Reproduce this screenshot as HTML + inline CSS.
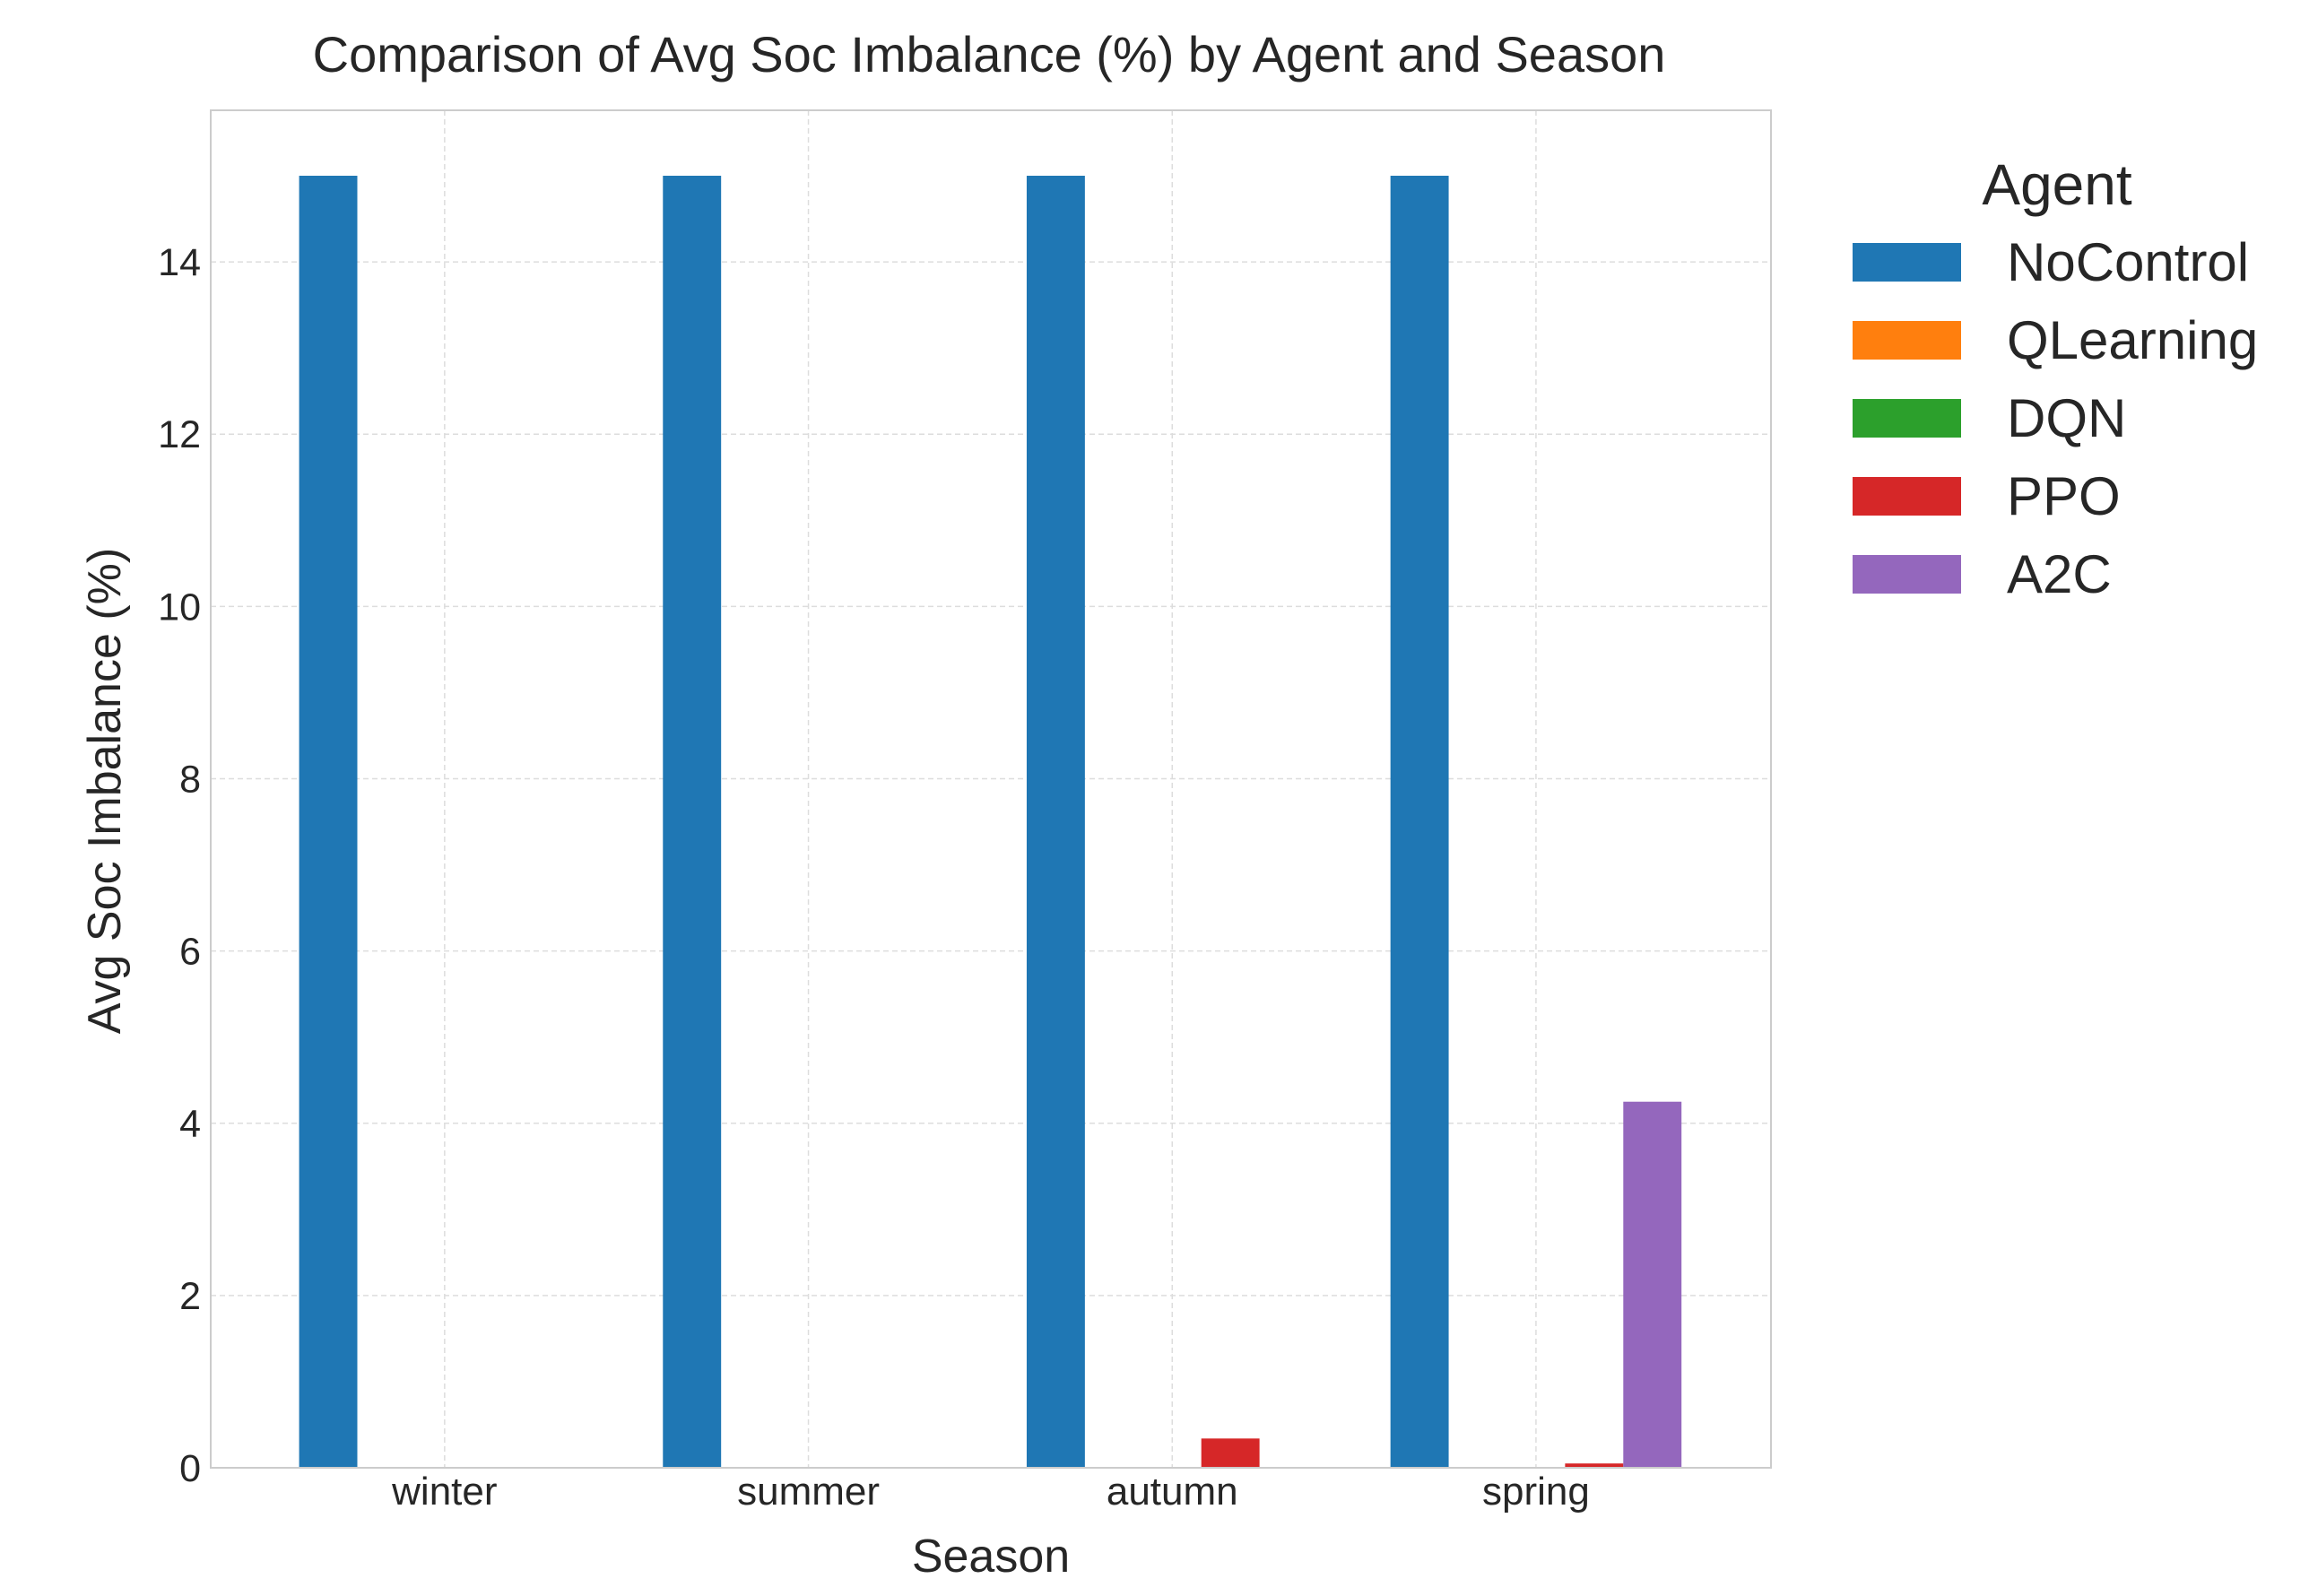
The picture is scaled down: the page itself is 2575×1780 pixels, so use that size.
<!DOCTYPE html>
<html><head><meta charset="utf-8"><style>
body{margin:0;background:#fff}
svg text{font-family:"Liberation Sans",Arial,sans-serif;fill:#262626}
</style></head><body>
<svg id="chart" width="2575" height="1775" xmlns="http://www.w3.org/2000/svg">
<rect width="2575" height="1775" fill="#fff"/>
<text x="1103" y="80" font-size="56" text-anchor="middle">Comparison of Avg Soc Imbalance (%) by Agent and Season</text>
<g id="grid"></g>
<g id="bars"></g>
<rect x="235" y="123" width="1740" height="1514" fill="none" stroke="#cccccc" stroke-width="2"/>
<g id="ticks"></g>
<text transform="translate(134,882) rotate(-90)" font-size="52" text-anchor="middle">Avg Soc Imbalance (%)</text>
<text x="1105" y="1753" font-size="52" text-anchor="middle">Season</text>
<g id="legend">
<text x="2294" y="228" font-size="64" text-anchor="middle">Agent</text>
</g>
</svg>
<script>
const categories=["winter","summer","autumn","spring"];
const agents=["NoControl","QLearning","DQN","PPO","A2C"];
const colors=["#1f77b4","#ff7f0e","#2ca02c","#d62728","#9467bd"];
const noControl=[15.0,15.0,15.0,15.0];
const qLearning=[0,0,0,0];
const dqn=[0,0,0,0];
const ppo=[0,0,0.34,0.05];
const a2c=[0,0,0,4.25];
const yTicks=[0,2,4,6,8,10,12,14];
const series=[noControl,qLearning,dqn,ppo,a2c];
const NS="http://www.w3.org/2000/svg";
const L=235,R=1975,T=123,B=1637;
const xMin=-0.643,xMax=3.646,yMin=0,yMax=15.76;
const xs=v=>L+(v-xMin)/(xMax-xMin)*(R-L);
const ys=v=>B-(v-yMin)/(yMax-yMin)*(B-T);
function mk(tag,attrs,parent){const e=document.createElementNS(NS,tag);for(const k in attrs)e.setAttribute(k,attrs[k]);parent.appendChild(e);return e;}
const grid=document.getElementById('grid'),bars=document.getElementById('bars'),ticks=document.getElementById('ticks'),legend=document.getElementById('legend');
yTicks.forEach(t=>{
 const g=mk('line',{x1:L,x2:R,y1:ys(t),y2:ys(t),stroke:'#dddddd','stroke-width':1.5,'stroke-dasharray':'6,4'},grid);
 
 
 const tx=mk('text',{x:224,y:ys(t)+15,'font-size':43,'text-anchor':'end'},ticks);
 tx.textContent=t;
 
 
});
categories.forEach((c,i)=>{
 const g=mk('line',{x1:xs(i),x2:xs(i),y1:T,y2:B,stroke:'#dddddd','stroke-width':1.5,'stroke-dasharray':'6,4'},grid);
 
 
 const tx=mk('text',{x:xs(i),y:1678,'font-size':44,'text-anchor':'middle'},ticks);
 tx.textContent=c;
 
 
});
const bw=0.16;
series.forEach((s,j)=>{
 s.forEach((v,i)=>{
  const c=i+(j-2)*bw;
  const x0=xs(c-bw/2),x1=xs(c+bw/2);
  const r=mk('rect',{x:x0,y:ys(v),width:x1-x0,height:ys(0)-ys(v),fill:colors[j]},bars);
  
  
 });
});
agents.forEach((a,j)=>{
 const cy=292+j*87;
 const r=mk('rect',{x:2066,y:cy-21,width:121,height:43,fill:colors[j]},legend);
 
 
 const t=mk('text',{x:2238,y:cy+21,'font-size':60},legend);
 t.textContent=a;
 
 
});
</script>
</body></html>
